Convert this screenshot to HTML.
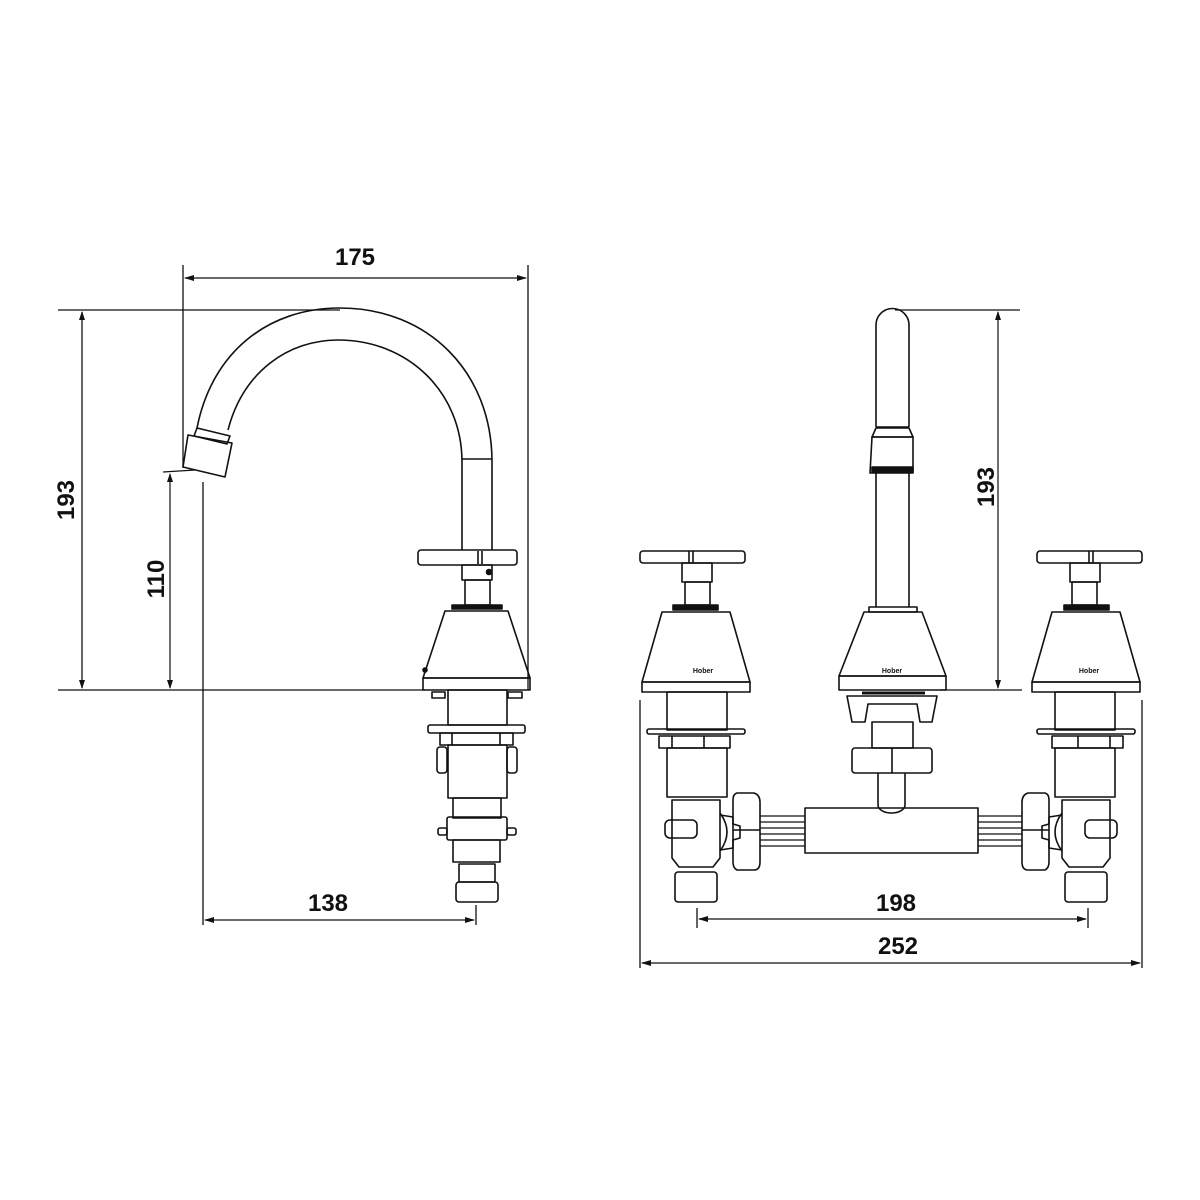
<!DOCTYPE html>
<html><head><meta charset="utf-8"><style>
html,body{margin:0;padding:0;background:#fff}
svg{display:block}
text{font-family:"Liberation Sans",sans-serif;font-weight:bold;fill:#111}
</style></head><body>
<svg width="1200" height="1200" viewBox="0 0 1200 1200" xmlns="http://www.w3.org/2000/svg">
<rect width="1200" height="1200" fill="#fff"/>
<g fill="none" stroke="#111" stroke-width="1.6" stroke-linejoin="round">
<!-- LEFT VIEW dimensions -->
<line x1="183" y1="265" x2="183" y2="468" stroke-width="1.3"/>
<line x1="528" y1="265" x2="528" y2="690" stroke-width="1.3"/>
<line x1="185" y1="278" x2="526" y2="278" stroke-width="1.2"/>
<line x1="58" y1="310" x2="340" y2="310" stroke-width="1.3"/>
<line x1="58" y1="690" x2="425" y2="690" stroke-width="1.3"/>
<line x1="82" y1="312" x2="82" y2="688" stroke-width="1.3"/>
<line x1="163" y1="472" x2="195" y2="470" stroke-width="1.3"/>
<line x1="170" y1="474" x2="170" y2="688" stroke-width="1.2"/>
<line x1="203" y1="482" x2="203" y2="925" stroke-width="1.3"/>
<line x1="476" y1="905" x2="476" y2="925" stroke-width="1.3"/>
<line x1="205" y1="920" x2="474" y2="920" stroke-width="1.2"/>
<!-- spout -->
<path d="M197,428 C212,352 268,308 340,308 C428,308 492,372 492,462 L492,550"/>
<path d="M228,430 C243,372 288,340 338,340 C408,340 462,392 462,462 L462,550"/>
<line x1="462" y1="459" x2="492" y2="459"/>
<path d="M197,428 L230,436 L227,444 L194,436 Z"/>
<path d="M188,435 L232,443 L225,477 L183,467 Z"/>
<!-- handle -->
<rect x="418" y="550" width="99" height="15" rx="3"/>
<line x1="478" y1="551" x2="478" y2="564"/><line x1="482" y1="551" x2="482" y2="564"/>
<rect x="462" y="565" width="30" height="15"/>
<rect x="465" y="580" width="25" height="25"/>
<circle cx="489" cy="572" r="2.5" fill="#111"/>
<rect x="452" y="605" width="50" height="4" fill="#111"/>
<path d="M445,611 L508,611 L530,678 L423,678 Z"/>
<rect x="423" y="678" width="107" height="12"/>
<circle cx="425" cy="670" r="2" fill="#111"/>
<!-- lower valve left view -->
<rect x="432" y="692" width="13" height="6"/><rect x="508" y="692" width="14" height="6"/>
<rect x="448" y="690" width="59" height="35"/>
<rect x="428" y="725" width="97" height="8" rx="2"/>
<rect x="440" y="733" width="73" height="12"/>
<line x1="452" y1="733" x2="452" y2="745"/><line x1="500" y1="733" x2="500" y2="745"/>
<rect x="437" y="747" width="10" height="26" rx="3"/><rect x="507" y="747" width="10" height="26" rx="3"/>
<rect x="448" y="745" width="59" height="53"/>
<rect x="453" y="798" width="48" height="20"/>
<rect x="447" y="817" width="60" height="23" rx="2"/>
<rect x="438" y="828" width="9" height="7" rx="2"/><rect x="507" y="828" width="9" height="7" rx="2"/>
<rect x="453" y="840" width="47" height="22"/>
<rect x="459" y="864" width="36" height="18"/>
<rect x="456" y="882" width="42" height="20" rx="3"/>

<!-- RIGHT VIEW dimensions -->
<line x1="895" y1="310" x2="1020" y2="310" stroke-width="1.3"/>
<line x1="940" y1="690" x2="1022" y2="690" stroke-width="1.3"/>
<line x1="998" y1="312" x2="998" y2="688" stroke-width="1.2"/>
<line x1="640" y1="700" x2="640" y2="968" stroke-width="1.3"/>
<line x1="1142" y1="700" x2="1142" y2="968" stroke-width="1.3"/>
<line x1="642" y1="963" x2="1140" y2="963" stroke-width="1.2"/>
<line x1="697" y1="908" x2="697" y2="928" stroke-width="1.3"/>
<line x1="1088" y1="908" x2="1088" y2="928" stroke-width="1.3"/>
<line x1="699" y1="919" x2="1086" y2="919" stroke-width="1.2"/>
<!-- center spout -->
<path d="M876,427 L876,325 A16.5,16.5 0 0 1 909,325 L909,427"/>
<line x1="876" y1="427" x2="909" y2="427"/>
<path d="M872,437 L913,437 L913,473 L870,473 Z"/>
<path d="M876,428 L909,428 L913,437 L872,437 Z"/>
<rect x="872" y="467" width="41" height="5" fill="#111"/>
<line x1="876" y1="473" x2="876" y2="607"/><line x1="909" y1="473" x2="909" y2="607"/>
<rect x="869" y="607" width="48" height="5"/>
<path d="M864,612 L922,612 L946,676 L839,676 Z"/>
<rect x="839" y="676" width="107" height="14"/>
<path d="M847,696 L937,696 L932,722 L920,722 L917,704 L868,704 L865,722 L852,722 Z"/>
<line x1="862" y1="693" x2="925" y2="693" stroke-width="3"/>
<rect x="872" y="722" width="41" height="26"/>
<rect x="852" y="748" width="80" height="25" rx="3"/>
<line x1="892" y1="748" x2="892" y2="773"/>
<path d="M878,773 L878,805 A13.5,8 0 0 0 905,805 L905,773"/>
<rect x="805" y="808" width="173" height="45"/>
<!-- pipes -->
<g stroke-width="1.2">
<line x1="760" y1="816" x2="805" y2="816"/><line x1="760" y1="822" x2="805" y2="822"/>
<line x1="760" y1="828" x2="805" y2="828"/><line x1="760" y1="834" x2="805" y2="834"/>
<line x1="760" y1="840" x2="805" y2="840"/><line x1="760" y1="846" x2="805" y2="846"/>
<line x1="978" y1="816" x2="1022" y2="816"/><line x1="978" y1="822" x2="1022" y2="822"/>
<line x1="978" y1="828" x2="1022" y2="828"/><line x1="978" y1="834" x2="1022" y2="834"/>
<line x1="978" y1="840" x2="1022" y2="840"/><line x1="978" y1="846" x2="1022" y2="846"/>
</g>
<!-- left valve group (mirrored for right) -->
<g id="valve">
<rect x="640" y="551" width="105" height="12" rx="3"/>
<line x1="689" y1="551" x2="689" y2="563"/><line x1="693" y1="551" x2="693" y2="563"/>
<rect x="682" y="563" width="30" height="19"/>
<rect x="685" y="582" width="25" height="23"/>
<rect x="673" y="605" width="45" height="5" fill="#111"/>
<path d="M662,612 L730,612 L750,682 L642,682 Z"/>
<rect x="642" y="682" width="108" height="10"/>
<rect x="667" y="692" width="60" height="38"/>
<rect x="647" y="729" width="98" height="5" rx="2"/>
<rect x="659" y="736" width="71" height="12"/>
<line x1="672" y1="736" x2="672" y2="748"/><line x1="704" y1="736" x2="704" y2="748"/>
<rect x="667" y="748" width="60" height="49"/>
<path d="M672,800 L720,800 L720,858 L713,867 L679,867 L672,858 Z"/>
<rect x="665" y="820" width="32" height="18" rx="5"/>
<path d="M720,813 Q734,832 720,851"/>
<path d="M720,815 L733,817 L733,848 L720,850"/>
<rect x="675" y="872" width="42" height="30" rx="3"/>
<path d="M737,793 L754,793 Q760,795 760,802 L760,862 Q760,870 754,870 L737,870 Q733,868 733,862 L733,840 L740,838 L740,826 L733,824 L733,800 Q733,794 737,793 Z"/>
<line x1="733" y1="830" x2="760" y2="830"/>
</g>
<use href="#valve" transform="translate(1782,0) scale(-1,1)"/>
</g>
<!-- arrowheads -->
<g fill="#111">
<path d="M82,311 L79,320 L85,320 Z"/><path d="M82,689 L79,680 L85,680 Z"/>
<path d="M170,473 L167,482 L173,482 Z"/><path d="M170,689 L167,680 L173,680 Z"/>
<path d="M998,311 L995,320 L1001,320 Z"/><path d="M998,689 L995,680 L1001,680 Z"/>
<path d="M184,278 L194,275 L194,281 Z"/><path d="M527,278 L517,275 L517,281 Z"/>
<path d="M204,920 L214,917 L214,923 Z"/><path d="M475,920 L465,917 L465,923 Z"/>
<path d="M698,919 L708,916 L708,922 Z"/><path d="M1087,919 L1077,916 L1077,922 Z"/>
<path d="M641,963 L651,960 L651,966 Z"/><path d="M1141,963 L1131,960 L1131,966 Z"/>
</g>
<!-- labels -->
<g font-size="24" text-anchor="middle">
<text x="355" y="265">175</text>
<text x="328" y="911">138</text>
<text x="896" y="911">198</text>
<text x="898" y="954">252</text>
<text transform="translate(74,500) rotate(-90)">193</text>
<text transform="translate(164,579) rotate(-90)">110</text>
<text transform="translate(994,487) rotate(-90)">193</text>
</g>
<g font-size="7" text-anchor="middle">
<text x="703" y="673">Hober</text>
<text x="892" y="673">Hober</text>
<text x="1089" y="673">Hober</text>
</g>
</svg>
</body></html>
